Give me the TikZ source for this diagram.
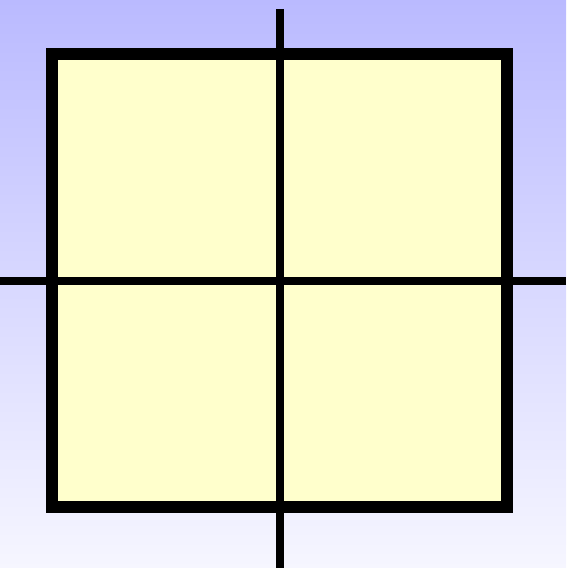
\documentclass[tikz,border=0pt]{standalone}
\definecolor{bgtop}{RGB}{186,186,255}
\definecolor{bgbot}{RGB}{246,246,255}
\definecolor{cellfill}{RGB}{255,255,204}
\tikzset{
  frame/.style={draw=black, line width=12pt, fill=cellfill},
  axis/.style={draw=black, line width=8pt}
}
\begin{document}
\begin{tikzpicture}[x=1pt,y=1pt]
  % background (y flipped: y_tikz = 568 - y_px)
  \shade[top color=bgtop, bottom color=bgbot] (0,0) rectangle (566,568);
  \useasboundingbox (0,0) rectangle (566,568);
  % square
  \path[frame] (52,61) rectangle (506.5,514);
  % axes
  \coordinate (vtop) at (279.5,559);
  \coordinate (vbot) at (279.5,0);
  \coordinate (hl) at (0,287);
  \coordinate (hr) at (566,287);
  \draw[axis] (vtop) -- (vbot);
  \draw[axis] (hl) -- (hr);
\end{tikzpicture}
\end{document}
